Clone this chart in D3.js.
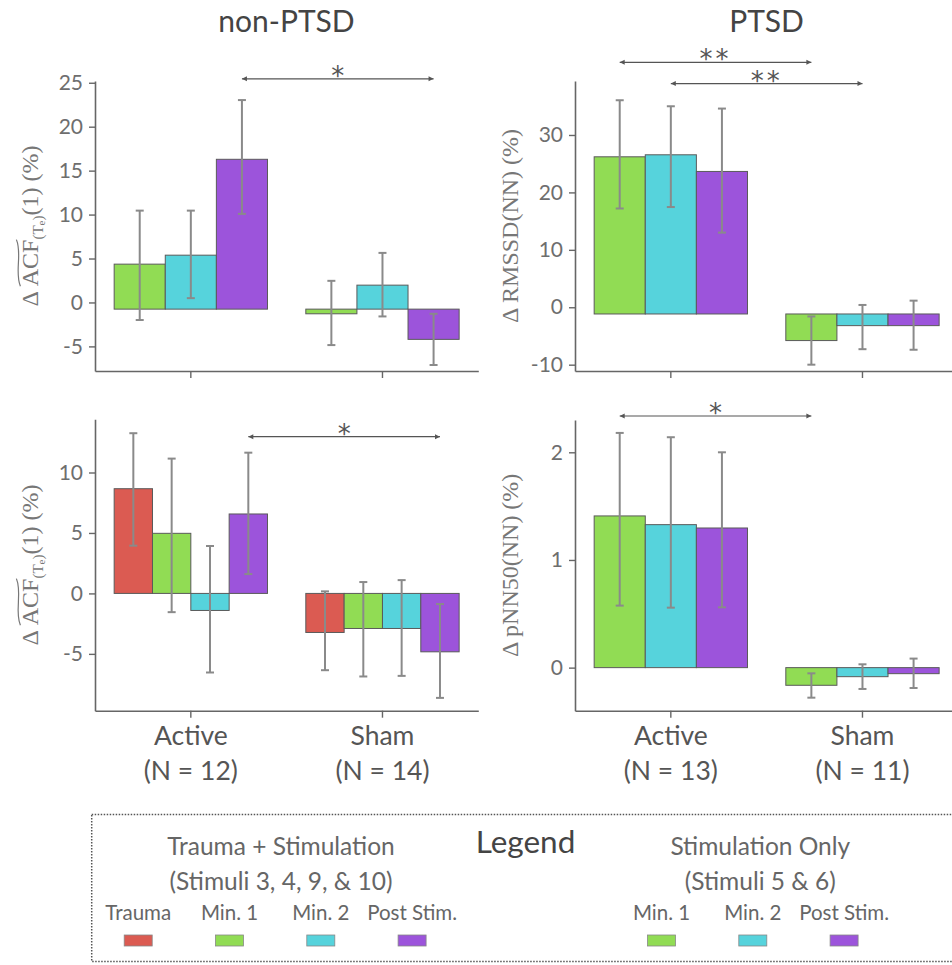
<!DOCTYPE html>
<html>
<head>
<meta charset="utf-8">
<script src="https://cdn.jsdelivr.net/npm/d3@7"></script>
<style>
  body { margin: 0; background: #fff; }
  svg { display: block; }
</style>
</head>
<body>
<div id="chart"></div>
<script>
// Heart-rate variability changes, non-PTSD vs PTSD, Active vs Sham

var groups = ["Active", "Sham"];
var nonPtsdN = ["(N = 12)", "(N = 14)"];
var ptsdN = ["(N = 13)", "(N = 11)"];

var seriesStim = ["Min. 1", "Min. 2", "Post Stim."];
var seriesTrauma = ["Trauma", "Min. 1", "Min. 2", "Post Stim."];
var seriesColors = ["#db5b52", "#91dc54", "#56d3dc", "#9c54db"];

// top-left: non-PTSD, stimulation only, ACF
var tlMean = [[4.36, 5.38, 16.29], [-1.29, 1.97, -4.2]];
var tlLow = [[-2.0, 0.49, 10.08], [-4.85, -1.59, -7.12]];
var tlHigh = [[10.45, 10.45, 23.03], [2.46, 5.64, -1.29]];
var tlBase = -0.76;
var tlTicks = [-5, 0, 5, 10, 15, 20, 25];
var tlDomain = [-7.8, 25.2];

// top-right: PTSD, stimulation only, RMSSD
var trMean = [[26.2, 26.55, 23.65], [-5.8, -3.2, -3.2]];
var trLow = [[17.2, 17.45, 13.0], [-10.0, -7.3, -7.4]];
var trHigh = [[36.05, 35.0, 34.6], [-1.6, 0.4, 1.15]];
var trBase = -1.17;
var trTicks = [-10, 0, 10, 20, 30];
var trDomain = [-11.1, 39.4];

// bottom-left: non-PTSD, trauma + stimulation, ACF
var blMean = [[8.66, 4.97, -1.41, 6.57], [-3.23, -2.9, -2.9, -4.83]];
var blLow = [[3.95, -1.55, -6.54, 1.6], [-6.35, -6.87, -6.82, -8.64]];
var blHigh = [[13.25, 11.15, 3.92, 11.64], [0.17, 0.94, 1.1, -0.88]];
var blTicks = [-5, 0, 5, 10];
var blDomain = [-9.7, 14.4];

// bottom-right: PTSD, stimulation only, pNN50
var brMean = [[1.409, 1.328, 1.297], [-0.164, -0.084, -0.056]];
var brLow = [[0.576, 0.557, 0.56], [-0.279, -0.198, -0.189]];
var brHigh = [[2.18, 2.14, 2.0], [-0.053, 0.031, 0.084]];
var brTicks = [0, 1, 2];
var brDomain = [-0.4, 2.3];

// significance brackets: [group, series] -> [group, series], height in data units
var tlSig = [{ from: ["Active", "Post Stim."], to: ["Sham", "Post Stim."], y: 25.45, label: "*" }];
var trSig = [
  { from: ["Active", "Min. 1"], to: ["Sham", "Min. 1"], y: 42.66, label: "**" },
  { from: ["Active", "Min. 2"], to: ["Sham", "Min. 2"], y: 38.96, label: "**" }
];
var blSig = [{ from: ["Active", "Post Stim."], to: ["Sham", "Post Stim."], y: 12.96, label: "*" }];
var brSig = [{ from: ["Active", "Min. 1"], to: ["Sham", "Min. 1"], y: 2.337, label: "*" }];

var width = 952, height = 965;
var sansFont = "Lato, 'Open Sans', sans-serif";
var serifFont = "'Liberation Serif', 'DejaVu Serif', serif";
var plotW = 383.3;

var color = d3.scaleOrdinal().domain(seriesTrauma).range(seriesColors);

var svg = d3.select("#chart").append("svg")
  .attr("width", width)
  .attr("height", height)
  .style("background", "#fff");

// column titles
svg.append("text").attr("x", 286.5).attr("y", 32)
  .attr("text-anchor", "middle").style("font", "30px " + sansFont).style("fill", "#444")
  .text("non-PTSD");
svg.append("text").attr("x", 766.5).attr("y", 32)
  .attr("text-anchor", "middle").style("font", "30px " + sansFont).style("fill", "#444")
  .text("PTSD");

var panels = [
  { left: 95, top: 81, bottom: 371, series: seriesStim, mean: tlMean, low: tlLow, high: tlHigh, base: tlBase,
    ticks: tlTicks, domain: tlDomain, sig: tlSig, label: "acf" },
  { left: 575, top: 81, bottom: 371, series: seriesStim, mean: trMean, low: trLow, high: trHigh, base: trBase,
    ticks: trTicks, domain: trDomain, sig: trSig, label: "Δ RMSSD(NN)  (%)" },
  { left: 95, top: 419.3, bottom: 710.7, series: seriesTrauma, mean: blMean, low: blLow, high: blHigh, base: 0,
    ticks: blTicks, domain: blDomain, sig: blSig, label: "acf", names: nonPtsdN },
  { left: 575, top: 420, bottom: 710.7, series: seriesStim, mean: brMean, low: brLow, high: brHigh, base: 0,
    ticks: brTicks, domain: brDomain, sig: brSig, label: "Δ pNN50(NN)  (%)", names: ptsdN }
];

panels.forEach(drawPanel);

function drawPanel(p) {
  var g = svg.append("g");

  var x0 = d3.scaleBand().domain(groups)
    .range([p.left, p.left + plotW])
    .paddingInner(0.2).paddingOuter(0.1);
  var x1 = d3.scaleBand().domain(p.series).range([0, x0.bandwidth()]);
  var y = d3.scaleLinear().domain(p.domain).range([p.bottom, p.top]);

  // rows for bars
  var rows = [];
  groups.forEach(function(grp, gi) {
    p.series.forEach(function(s, si) {
      rows.push({ group: grp, series: s, value: p.mean[gi][si], low: p.low[gi][si], high: p.high[gi][si] });
    });
  });

  // bars
  g.selectAll(".bar")
    .data(rows)
    .enter().append("rect")
    .attr("class", "bar")
    .attr("x", function(d) { return x0(d.group) + x1(d.series); })
    .attr("width", x1.bandwidth())
    .attr("y", function(d) { return Math.min(y(d.value), y(p.base)); })
    .attr("height", function(d) { return Math.abs(y(d.value) - y(p.base)); })
    .style("fill", function(d) { return color(d.series); })
    .style("stroke", "#5a5a5a")
    .style("stroke-width", 1);

  // error bars
  var err = g.selectAll(".err")
    .data(rows)
    .enter().append("g")
    .attr("class", "err")
    .attr("transform", function(d) { return "translate(" + (x0(d.group) + x1(d.series) + x1.bandwidth() / 2) + ",0)"; });
  err.append("line")
    .attr("y1", function(d) { return y(d.low); })
    .attr("y2", function(d) { return y(d.high); });
  err.append("line")
    .attr("x1", -4).attr("x2", 4)
    .attr("y1", function(d) { return y(d.low); })
    .attr("y2", function(d) { return y(d.low); });
  err.append("line")
    .attr("x1", -4).attr("x2", 4)
    .attr("y1", function(d) { return y(d.high); })
    .attr("y2", function(d) { return y(d.high); });
  err.selectAll("line").style("stroke", "#8a8a8a").style("stroke-width", 2);

  // axes
  var yAxis = g.append("g")
    .attr("transform", "translate(" + p.left + ",0)")
    .call(d3.axisLeft(y).tickValues(p.ticks).tickSize(6).tickSizeOuter(0).tickPadding(6)
      .tickFormat(function(d) { return String(d); }));
  var xAxis = g.append("g")
    .attr("transform", "translate(0," + p.bottom + ")")
    .call(d3.axisBottom(x0).tickSize(7).tickSizeOuter(0).tickFormat(""));
  [yAxis, xAxis].forEach(function(a) {
    a.select(".domain").style("stroke", "#666").style("stroke-width", 1.6);
    a.selectAll(".tick line").style("stroke", "#666").style("stroke-width", 1.4);
  });
  yAxis.selectAll(".tick text")
    .style("font", "21px " + sansFont)
    .style("fill", "#6e6e6e");

  // category names under bottom panels
  if (p.names) {
    groups.forEach(function(grp, gi) {
      var cx = x0(grp) + x0.bandwidth() / 2;
      g.append("text").attr("x", cx).attr("y", 745)
        .attr("text-anchor", "middle").style("font", "26.5px " + sansFont).style("fill", "#555")
        .text(grp);
      g.append("text").attr("x", cx).attr("y", 780)
        .attr("text-anchor", "middle").style("font", "26.5px " + sansFont).style("fill", "#555")
        .text(p.names[gi]);
    });
  }

  // y label (rotated)
  var midY = (p.top + p.bottom) / 2;
  var lab = g.append("g").attr("transform", "translate(" + (p.left - 65) + "," + midY + ") rotate(-90)");
  var t = lab.append("text")
    .attr("text-anchor", "middle")
    .attr("dy", "0.35em")
    .style("font-family", serifFont)
    .style("font-size", "24px")
    .style("fill", "#777");
  if (p.label === "acf") {
    t.append("tspan").text("Δ ACF");
    t.append("tspan").attr("dy", 5).style("font-size", "15px").text("(T");
    t.append("tspan").attr("dy", 2).style("font-size", "11px").text("e");
    t.append("tspan").attr("dy", -2).style("font-size", "15px").text(")");
    t.append("tspan").attr("dy", -5).text("(1) (%)");
    // wide tilde over ACF
    var node = t.node();
    var xa = node.getStartPositionOfChar(2).x;
    var xb = node.getEndPositionOfChar(4).x;
    var yb = node.getStartPositionOfChar(2).y;
    var w = xb - xa, y0 = yb - 18;
    lab.append("path")
      .attr("d", "M" + xa + "," + y0 +
        " C" + (xa + w * 0.3) + "," + (y0 - 6) + " " + (xa + w * 0.7) + "," + (y0 + 2) + " " + xb + "," + (y0 - 4))
      .style("fill", "none").style("stroke", "#777").style("stroke-width", 1.2);
  } else {
    t.text(p.label);
  }

  // significance brackets
  p.sig.forEach(function(s) {
    var xa = x0(s.from[0]) + x1(s.from[1]) + x1.bandwidth() / 2;
    var xb = x0(s.to[0]) + x1(s.to[1]) + x1.bandwidth() / 2;
    var yy = y(s.y);
    g.append("line")
      .attr("x1", xa).attr("x2", xb).attr("y1", yy).attr("y2", yy)
      .style("stroke", "#555").style("stroke-width", 1.2);
    g.append("path")
      .attr("d", "M" + xa + "," + yy + "l5,-2.5v5z")
      .style("fill", "#555");
    g.append("path")
      .attr("d", "M" + xb + "," + yy + "l-5,-2.5v5z")
      .style("fill", "#555");
    g.append("text")
      .attr("x", (xa + xb) / 2).attr("y", yy + 6)
      .attr("text-anchor", "middle")
      .style("font", "26px 'DejaVu Sans', sans-serif").style("fill", "#555")
      .style("letter-spacing", s.label.length > 1 ? "3px" : "0px")
      .text(s.label);
  });
}

// Legend
var legend = svg.append("g").attr("class", "legend");
legend.append("rect")
  .attr("x", 91.7).attr("y", 814.5)
  .attr("width", 880).attr("height", 147)
  .style("fill", "none").style("stroke", "#555")
  .style("stroke-width", 1.5).style("stroke-dasharray", "1.5,1.5");

legend.append("text").attr("x", 525.5).attr("y", 853)
  .attr("text-anchor", "middle").style("font", "31.5px " + sansFont).style("fill", "#444")
  .text("Legend");

var legendGroups = [
  { title: "Trauma + Stimulation", sub: "(Stimuli 3, 4, 9, & 10)", cx: 281, series: seriesTrauma, x0: 138.2 },
  { title: "Stimulation Only", sub: "(Stimuli 5 & 6)", cx: 760.3, series: seriesStim, x0: 661.5 }
];
var legendStep = 91.3;

legendGroups.forEach(function(lg) {
  legend.append("text").attr("x", lg.cx).attr("y", 855)
    .attr("text-anchor", "middle").style("font", "24.5px " + sansFont).style("fill", "#666")
    .text(lg.title);
  legend.append("text").attr("x", lg.cx).attr("y", 889.5)
    .attr("text-anchor", "middle").style("font", "24.5px " + sansFont).style("fill", "#666")
    .text(lg.sub);
  var item = legend.selectAll(null)
    .data(lg.series)
    .enter().append("g")
    .attr("transform", function(d, i) { return "translate(" + (lg.x0 + i * legendStep) + ",0)"; });
  item.append("text")
    .attr("y", 920)
    .attr("text-anchor", "middle")
    .style("font", "20.5px " + sansFont).style("fill", "#666")
    .text(function(d) { return d; });
  item.append("rect")
    .attr("x", -14).attr("y", 935).attr("width", 28).attr("height", 11)
    .style("fill", function(d) { return color(d); })
    .style("stroke", "#888").style("stroke-width", 0.8);
});
</script>
</body>
</html>
